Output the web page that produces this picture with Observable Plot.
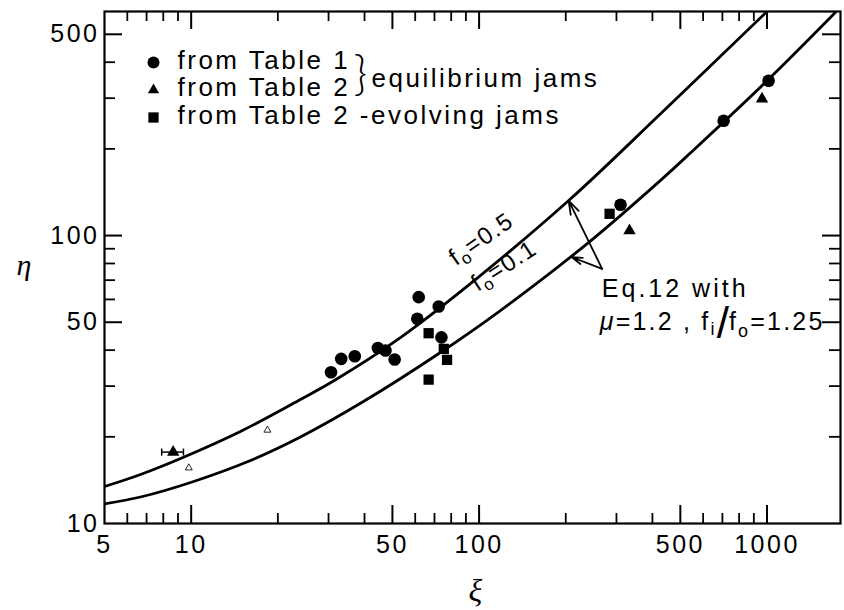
<!DOCTYPE html>
<html><head><meta charset="utf-8">
<script src="https://cdn.jsdelivr.net/npm/d3@7"></script>
<script src="https://cdn.jsdelivr.net/npm/@observablehq/plot@0.6"></script>
<style>body{margin:0;background:#fff} svg{display:block}</style>
</head><body><div id="chart"></div>
<script>
// ---- data ----
const table1X = [30.6, 33.2, 37.0, 44.5, 47.3, 50.9, 61.0, 61.7, 72.4, 74.0, 310, 707, 1013];
const table1Y = [33.5, 37.3, 38.1, 40.7, 39.9, 37.1, 51.4, 61.1, 56.7, 44.3, 128, 250.6, 345];
const table2EqX = [8.66, 333, 961];
const table2EqY = [17.7, 104, 298];
const table2EvX = [66.8, 75.4, 77.4, 66.8, 284];
const table2EvY = [45.8, 40.4, 37.0, 31.6, 119];
const errLowX = [7.9];
const errHighX = [9.4];
const errY = [17.7];
const faintX = [9.81, 18.4];
const faintY = [15.6, 21.1];
// Eq.12 curves
const curveHighX = [5, 6.67, 9.41, 14.83, 23.96, 31.2, 53.3, 101.0, 207.5, 426, 1000];
const curveHighY = [13.44, 14.8, 16.99, 20.87, 26.96, 31.25, 44.23, 72.62, 133.9, 264.2, 600];
const curveLowX = [5, 6.67, 10.08, 16.07, 23.96, 39.65, 73.4, 118.6, 243.5, 426, 541.5, 1010, 1727];
const curveLowY = [11.71, 12.36, 13.94, 16.55, 19.97, 26.52, 39.26, 54.9, 95.7, 155.2, 193.4, 348, 595];
// annotation anchors (data space)
const arrowX1 = [267.6, 267.6];
const arrowY1 = [76.6, 76.6];
const arrowX2 = [204.7, 210.3];
const arrowY2 = [132.3, 84.1];
const curveLabels = ["0.5", "0.1"];
const curveLabelX = [83.4, 99.4];
const curveLabelY = [78.0, 63.4];
const eqX = [267.9];
const eqY = [60.9];
// ticks
const xTickLabels = [5, 10, 50, 100, 500, 1000];
const yTickLabels = [10, 50, 100, 500];
const xMajorTicks = [10, 50, 100, 500, 1000];
const xMinorTicks = [6, 7, 8, 9, 20, 30, 40, 60, 70, 80, 90, 200, 300, 400, 600, 700, 800, 900];
const yMajorTicks = [50, 100, 500];
const yMinorTicks = [20, 30, 40, 60, 70, 80, 90, 200, 300, 400];
const legendLabels = ["from Table 1", "from Table 2", "from Table 2 -evolving jams"];
const legendSymbols = ["circle", "triangle", "square"];
const braceLabel = ["equilibrium jams"];

// ---- layout ----
const W = 844, H = 610, mL = 104, mR = 4, mT = 11, mB = 87;
const fw = W - mL - mR, fh = H - mT - mB;
const pts = (xs, ys) => xs.map((x, i) => ({x, y: ys[i]}));
const barSymbol = {draw(ctx, size) { const h = Math.sqrt(size) / 2; ctx.moveTo(0, -h); ctx.lineTo(0, h); }};

const legendMarks = [];
legendLabels.forEach((lab, i) => {
  const sym = legendSymbols[i];
  legendMarks.push(Plot.dot([lab], {frameAnchor: "top-left", dx: 49, dy: 51 + i * 27.5, symbol: sym,
    r: sym === "circle" ? 6 : sym === "square" ? 5.8 : 4.2, fill: "black"}));
  legendMarks.push(Plot.text([lab], {frameAnchor: "top-left", lineAnchor: "middle", dx: 73, dy: 49 + i * 27.5, text: d => d, textAnchor: "start", fontSize: 26}));
});
legendMarks.push(Plot.text(["}"], {frameAnchor: "top-left", lineAnchor: "middle", dx: 249, dy: 63, text: d => d, fontSize: 47, fontWeight: 300, fontFamily: "Lato, 'Liberation Sans', sans-serif"}));
legendMarks.push(Plot.text(braceLabel, {frameAnchor: "top-left", lineAnchor: "middle", dx: 267, dy: 67, text: d => d, textAnchor: "start", fontSize: 26}));

const plot = Plot.plot({
  width: W, height: H,
  marginLeft: mL, marginRight: mR, marginTop: mT, marginBottom: mB,
  style: {fontFamily: "'Liberation Sans', Arial, Helvetica, sans-serif", fontSize: "25px", letterSpacing: "2.5px", color: "#000", background: "#fff"},
  x: {type: "log", domain: [5, 1800], axis: null},
  y: {type: "log", domain: [10, 600], axis: null},
  marks: [
    Plot.text(xTickLabels, {x: d => d, frameAnchor: "bottom", lineAnchor: "top", dy: 12, text: d => String(d)}),
    Plot.text(yTickLabels, {y: d => d, frameAnchor: "left", lineAnchor: "middle", textAnchor: "end", dx: -5, text: d => String(d)}),
    // inward ticks on all four sides
    Plot.tickX(xMajorTicks, {x: d => d, insetTop: fh - 18, strokeWidth: 2}),
    Plot.tickX(xMinorTicks, {x: d => d, insetTop: fh - 10, strokeWidth: 1.8}),
    Plot.tickX(xMajorTicks, {x: d => d, insetBottom: fh - 18, strokeWidth: 2}),
    Plot.tickX(xMinorTicks, {x: d => d, insetBottom: fh - 10, strokeWidth: 1.8}),
    Plot.tickY(yMajorTicks, {y: d => d, insetRight: fw - 18, strokeWidth: 2}),
    Plot.tickY(yMinorTicks, {y: d => d, insetRight: fw - 11, strokeWidth: 1.8}),
    Plot.tickY(yMajorTicks, {y: d => d, insetLeft: fw - 18, strokeWidth: 2}),
    Plot.tickY(yMinorTicks, {y: d => d, insetLeft: fw - 11, strokeWidth: 1.8}),
    Plot.frame({strokeWidth: 2.2}),
    // curves
    Plot.line(pts(curveHighX, curveHighY), {x: "x", y: "y", curve: "catmull-rom", strokeWidth: 2.8, clip: true}),
    Plot.line(pts(curveLowX, curveLowY), {x: "x", y: "y", curve: "catmull-rom", strokeWidth: 2.8, clip: true}),
    // error bar
    Plot.ruleY(errY.map((y, i) => ({y, x1: errLowX[i], x2: errHighX[i]})), {y: "y", x1: "x1", x2: "x2", strokeWidth: 1.5}),
    Plot.dot(pts(errLowX, errY).concat(pts(errHighX, errY)), {x: "x", y: "y", symbol: barSymbol, r: 4, stroke: "black", strokeWidth: 1.5}),
    // data
    Plot.dot(pts(table1X, table1Y), {x: "x", y: "y", symbol: "circle", r: 6.3, fill: "black"}),
    Plot.dot(pts(table2EqX, table2EqY), {x: "x", y: "y", symbol: "triangle", r: 4.6, fill: "black"}),
    Plot.dot(pts(table2EvX, table2EvY), {x: "x", y: "y", symbol: "square", r: 5.8, fill: "black"}),
    Plot.dot(pts(faintX, faintY), {x: "x", y: "y", symbol: "triangle", r: 2.6, fill: "none", stroke: "#222", strokeWidth: 1}),
    // arrows
    Plot.arrow(arrowX1.map((x, i) => ({x1: x, y1: arrowY1[i], x2: arrowX2[i], y2: arrowY2[i]})),
      {x1: "x1", y1: "y1", x2: "x2", y2: "y2", headLength: 12, headAngle: 36, strokeWidth: 1.8}),
    // axis titles
    Plot.text(["η"], {frameAnchor: "left", lineAnchor: "middle", dx: -88, dy: -2, text: d => d, fontFamily: "'Liberation Serif', 'DejaVu Serif', serif", fontStyle: "italic", fontSize: 30}),
    Plot.text(["ξ"], {frameAnchor: "bottom", lineAnchor: "middle", dx: 4, dy: 67, text: d => d, fontFamily: "'Liberation Serif', 'DejaVu Serif', serif", fontStyle: "italic", fontSize: 32}),
    ...legendMarks
  ]
});
document.getElementById("chart").appendChild(plot);

// annotations with subscripts, placed through the plot's own scales
const sx = plot.scale("x"), sy = plot.scale("y");
const svg = d3.select(plot);
curveLabels.forEach((lab, i) => {
  const px = sx.apply(curveLabelX[i]), py = sy.apply(curveLabelY[i]);
  const ang = i === 0 ? -35 : -33;
  const t = svg.append("text").attr("text-anchor", "start")
    .attr("transform", `translate(${px},${py}) rotate(${ang})`)
    .attr("font-size", 24).attr("letter-spacing", "1.5px");
  t.append("tspan").text("f");
  t.append("tspan").attr("dy", 5).attr("font-size", 17).text("o");
  t.append("tspan").attr("dy", -5).text("=" + lab);
});
const ex = sx.apply(eqX[0]), ey = sy.apply(eqY[0]);
svg.append("text").attr("text-anchor", "start").attr("x", ex).attr("y", ey).attr("letter-spacing", "3px").text("Eq.12 with");
const l2 = svg.append("text").attr("text-anchor", "start").attr("x", ex - 2).attr("y", ey + 33).attr("letter-spacing", "2.2px");
l2.append("tspan").attr("font-style", "italic").text("μ");
l2.append("tspan").text("=1.2 , f");
l2.append("tspan").attr("dy", 5).attr("font-size", 18).text("i");
l2.append("tspan").attr("dy", 3).attr("font-size", 44).attr("letter-spacing", "0px").text("/");
l2.append("tspan").attr("dy", -8).text("f");
l2.append("tspan").attr("dy", 7).attr("font-size", 18).text("o");
l2.append("tspan").attr("dy", -7).text("=1.25");
</script>
</body></html>
